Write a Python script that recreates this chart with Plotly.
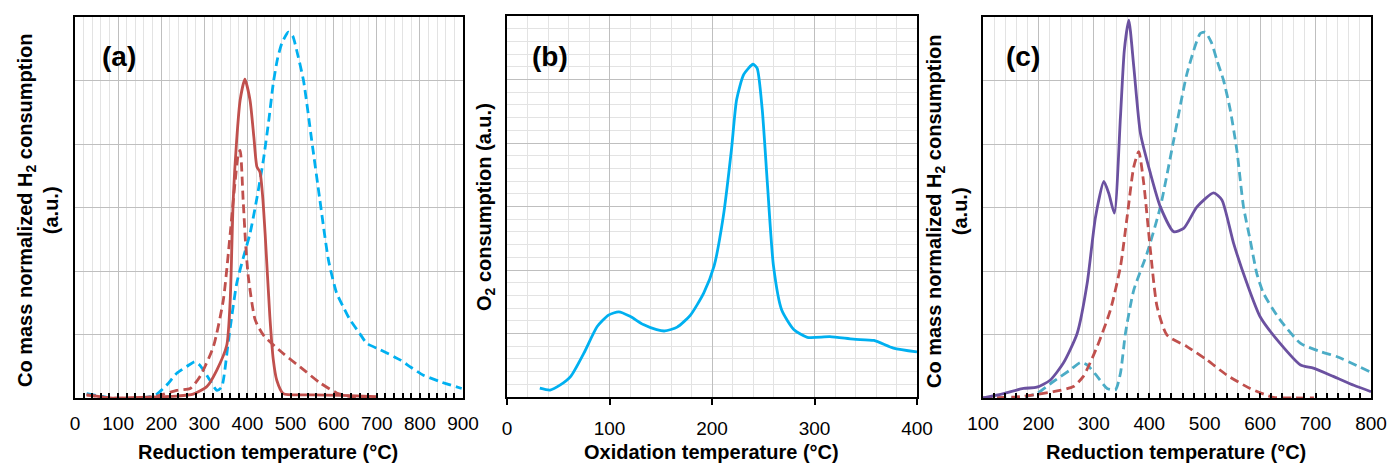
import plotly.graph_objects as go

# ---------------- data ----------------
# Panel (a): H2-TPR
a_blue_x = [27, 50, 81, 120, 151, 175, 190, 215, 236, 260, 278, 289, 300, 313, 329, 340, 356, 375, 390, 406, 422, 437, 450, 460, 470, 480, 495, 505, 514, 530, 549, 568, 588, 607, 625, 638, 660, 677, 708, 754, 780, 808, 850, 897]
a_blue_y = [0.07, 0.04, 0.0, -0.01, 0.0, 0.02, 0.06, 0.22, 0.39, 0.5, 0.57, 0.52, 0.42, 0.28, 0.12, 0.17, 0.91, 1.8, 2.2, 2.59, 3.15, 3.75, 4.4, 4.96, 5.35, 5.59, 5.76, 5.7, 5.48, 5.0, 4.06, 3.12, 2.17, 1.65, 1.4, 1.23, 1.02, 0.86, 0.76, 0.6, 0.48, 0.36, 0.25, 0.15]
a_red_x = [27, 50, 81, 150, 236, 274, 306, 329, 352, 360, 367, 375, 383, 394, 406, 415, 422, 429, 435, 441, 452, 460, 468, 483, 550, 620, 700]
a_red_y = [0.05, 0.03, 0.0, 0.01, 0.03, 0.06, 0.18, 0.44, 0.83, 1.54, 3.12, 4.06, 4.69, 5.02, 4.69, 4.1, 3.64, 3.56, 3.2, 2.59, 1.28, 0.6, 0.28, 0.07, 0.05, 0.04, 0.02]
a_redd_x = [27, 81, 150, 190, 236, 267, 290, 321, 344, 360, 371, 379, 383, 390, 396, 402, 418, 437, 483, 522, 568, 607, 640, 677, 700]
a_redd_y = [0.05, 0.0, 0.0, 0.03, 0.12, 0.15, 0.34, 0.81, 1.54, 2.59, 3.38, 3.85, 3.9, 3.12, 2.4, 1.91, 1.23, 0.99, 0.7, 0.49, 0.24, 0.08, 0.02, 0.0, 0.0]

# Panel (b): O2 consumption
b_x = [32, 42, 52, 62, 75, 88, 99, 109, 120, 133, 146, 154, 166, 179, 192, 202, 211, 219, 224, 231, 240, 244, 249, 254, 260, 268, 280, 293, 315, 338, 358, 377, 400]
b_y = [0.14, 0.11, 0.19, 0.32, 0.69, 1.11, 1.29, 1.34, 1.27, 1.14, 1.06, 1.04, 1.10, 1.29, 1.64, 2.06, 2.84, 3.9, 4.68, 5.08, 5.24, 5.18, 4.53, 3.37, 2.06, 1.37, 1.06, 0.94, 0.95, 0.91, 0.89, 0.77, 0.71]

# Panel (c): H2-TPR comparison
c_purple_x = [100, 137, 173, 197, 221, 245, 270, 288, 303, 318, 327, 337, 348, 355, 363, 372, 384, 402, 420, 444, 462, 486, 516, 531, 552, 576, 600, 636, 673, 696, 732, 769, 800]
c_purple_y = [0.0, 0.07, 0.15, 0.17, 0.28, 0.55, 1.02, 1.81, 2.85, 3.41, 3.22, 2.91, 4.43, 5.48, 5.95, 5.22, 4.17, 3.54, 3.01, 2.62, 2.67, 3.01, 3.23, 3.12, 2.44, 1.81, 1.28, 0.86, 0.52, 0.47, 0.34, 0.2, 0.1]
c_red_x = [100, 166, 227, 263, 281, 306, 330, 348, 360, 372, 381, 390, 402, 414, 432, 468, 504, 540, 582, 624, 660, 697]
c_red_y = [0.0, 0.02, 0.1, 0.18, 0.34, 0.81, 1.39, 2.07, 2.85, 3.64, 3.88, 3.38, 2.33, 1.44, 0.99, 0.81, 0.6, 0.36, 0.15, 0.01, 0.0, 0.0]
c_teal_x = [100, 166, 197, 227, 257, 276, 288, 306, 324, 339, 348, 357, 372, 396, 420, 444, 468, 492, 501, 512, 522, 534, 546, 558, 570, 582, 594, 606, 636, 673, 709, 739, 799]
c_teal_y = [0.0, 0.01, 0.07, 0.26, 0.44, 0.56, 0.52, 0.34, 0.15, 0.13, 0.39, 1.02, 1.7, 2.28, 3.01, 4.06, 5.11, 5.74, 5.76, 5.6, 5.32, 5.0, 4.54, 3.9, 3.01, 2.49, 1.96, 1.65, 1.23, 0.86, 0.73, 0.65, 0.41]

RED = "#C0504D"
BLUE = "#00B0F0"
TEAL = "#4BACC6"
PURPLE = "#6B51A0"

W, H = 1388, 464
FONT = "Arial, Liberation Sans, sans-serif"

fig = go.Figure()

def add(x, y, color, dash, xa, ya):
    fig.add_trace(go.Scatter(x=x, y=y, mode="lines", xaxis=xa, yaxis=ya,
                             line=dict(color=color, width=2.8, dash=dash, shape="spline", smoothing=0.6),
                             showlegend=False, hoverinfo="skip"))

DASH = "9px,5px"
add(a_blue_x, a_blue_y, BLUE, DASH, "x", "y")
add(a_redd_x, a_redd_y, RED, DASH, "x", "y")
add(a_red_x, a_red_y, RED, "solid", "x", "y")
add(b_x, b_y, BLUE, "solid", "x2", "y2")
add(c_teal_x, c_teal_y, TEAL, DASH, "x3", "y3")
add(c_red_x, c_red_y, RED, DASH, "x3", "y3")
add(c_purple_x, c_purple_y, PURPLE, "solid", "x3", "y3")

def px2x(p):
    return p / W

def py2y(p):
    return 1 - p / H

MAJ = "#BFBFBF"
MIN = "#E3E3E3"

def xaxis(rng, dom, anchor, inside_minor=True):
    d = dict(range=rng, domain=dom, anchor=anchor, dtick=100, tick0=0,
             showgrid=True, gridcolor=MAJ, gridwidth=1,
             showline=True, linecolor="black", linewidth=2, mirror=True,
             zeroline=False, automargin=False,
             tickfont=dict(family=FONT, size=19, color="black"),
             ticklabelstandoff=7)
    if inside_minor:
        d.update(ticks="inside", ticklen=5, tickcolor="black", tickwidth=1.5,
                 minor=dict(dtick=20, showgrid=True, gridcolor=MIN, gridwidth=1,
                            ticks="inside", ticklen=5, tickcolor="black", tickwidth=1.5))
    else:
        d.update(ticks="outside", ticklen=6, tickcolor="black", tickwidth=1.5,
                 minor=dict(dtick=20, showgrid=True, gridcolor=MIN, gridwidth=1, ticks=""))
    return d

def yaxis(dom, anchor, minor_grid=False):
    d = dict(range=[0, 6], domain=dom, anchor=anchor, dtick=1, tick0=0,
             showgrid=True, gridcolor=MAJ, gridwidth=1,
             showline=True, linecolor="black", linewidth=2, mirror=True,
             zeroline=False, showticklabels=False, ticks="", automargin=False)
    if minor_grid:
        d.update(minor=dict(dtick=0.2, showgrid=True, gridcolor=MIN, gridwidth=1, ticks=""))
    return d

dom_a = [px2x(75), px2x(463)]
dom_b = [px2x(507), px2x(917)]
dom_c = [px2x(983), px2x(1371)]
ydom = [py2y(398), py2y(17)]
ydom_b = [py2y(397), py2y(16)]

fig.update_layout(
    width=W, height=H, autosize=False,
    margin=dict(l=0, r=0, t=0, b=0, pad=0, autoexpand=False),
    paper_bgcolor="white", plot_bgcolor="white",
    xaxis=xaxis([0, 900], dom_a, "y"),
    yaxis=yaxis(ydom, "x"),
    xaxis2=xaxis([0, 400], dom_b, "y2", inside_minor=False),
    yaxis2=yaxis(ydom_b, "x2", minor_grid=True),
    xaxis3=xaxis([100, 800], dom_c, "y3"),
    yaxis3=yaxis(ydom, "x3"),
)

def ann(text, x, y, size, angle=0):
    fig.add_annotation(text=text, x=px2x(x), y=py2y(y), xref="paper", yref="paper",
                       showarrow=False, textangle=angle, xanchor="center", yanchor="middle",
                       font=dict(family=FONT, size=size, color="black"))

ytitle = "<b>Co mass normalized H<sub>2</sub> consumption<br>(a.u.)</b>"
ann(ytitle, 38, 211, 20, -90)
ann(ytitle, 947, 212, 20, -90)
ann("<b>O<sub>2</sub> consumption (a.u.)</b>", 486, 207, 20, -90)

ann("<b>Reduction temperature (°C)</b>", 268, 452, 20)
ann("<b>Oxidation temperature (°C)</b>", 711, 452, 20)
ann("<b>Reduction temperature (°C)</b>", 1176, 452, 20)

ann("<b>(a)</b>", 119, 57, 28)
ann("<b>(b)</b>", 550, 57, 28)
ann("<b>(c)</b>", 1023, 57, 28)

fig.write_html("out.html", config={"responsive": False, "displayModeBar": False},
               post_script="document.body.style.margin='0';document.body.style.padding='0';document.body.style.overflow='hidden';")
